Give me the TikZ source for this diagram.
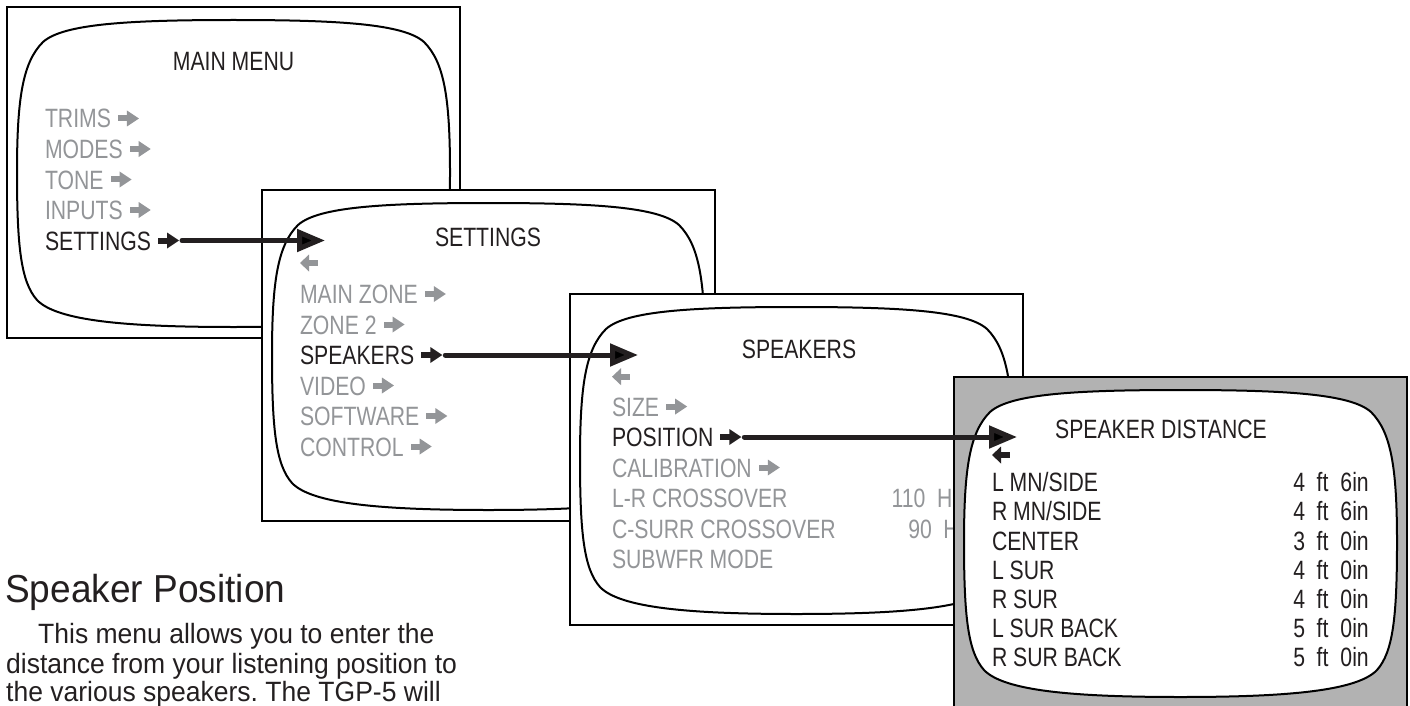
\documentclass[tikz,border=0pt]{standalone}
\usepackage{fontspec}
\usetikzlibrary{arrows.meta}
\frenchspacing
\newfontfamily\menufont{Liberation Sans}[FakeStretch=0.8]
\newfontfamily\bodyfont{Liberation Sans}[FakeStretch=0.95]
\definecolor{menugray}{RGB}{147,149,152}
\definecolor{menudark}{RGB}{35,31,32}
\definecolor{panelgray}{RGB}{178,178,178}
\newcommand\rarrowglyph[1]{\tikz[baseline=-9.5pt]{\fill[#1] (0pt,-3pt) rectangle (10pt,3pt); \fill[#1] (9pt,-8pt) -- (21pt,0pt) -- (9pt,8pt) -- cycle;}}
\newcommand\larrowglyph[1]{\tikz[baseline=-9.5pt]{\fill[#1] (8pt,-3pt) rectangle (18pt,3pt); \fill[#1] (9pt,-8.5pt) -- (0pt,0pt) -- (9pt,8.5pt) -- cycle;}}
\tikzset{
  scrbox/.style={draw=black, line width=2pt, fill=white, minimum width=453pt, minimum height=331pt, inner sep=0pt, outer sep=0pt, anchor=north west},
  tvscreen/.pic={
    \draw[line width=2pt, draw=black, fill=white]
      (10,165) .. controls (10,90) and (16,55) .. (36,35)
      .. controls (56,17) and (120,13) .. (226.5,13)
      .. controls (333,13) and (397,17) .. (417,35)
      .. controls (437,55) and (443,90) .. (443,165)
      .. controls (443,240) and (439,275) .. (423,293)
      .. controls (403,314) and (333,320) .. (226.5,320)
      .. controls (120,320) and (50,314) .. (30,293)
      .. controls (14,275) and (10,240) .. (10,165) -- cycle;
  },
  item/.style={anchor=base west, inner sep=0pt, outer sep=0pt, font={\menufont\fontsize{26.5pt}{30pt}\selectfont}, text=menugray},
  itemon/.style={item, text=menudark},
  menutitle/.style={anchor=base, inner sep=0pt, font={\menufont\fontsize{26.5pt}{30pt}\selectfont}, text=menudark},
  conn/.style={line width=5pt, line cap=round, draw=menudark, -{Triangle[length=28pt,width=22pt]}},
  heading/.style={anchor=base west, inner sep=0pt, font={\bodyfont\fontsize{39pt}{44pt}\selectfont}, text=menudark},
  bodytext/.style={anchor=base west, inner sep=0pt, font={\bodyfont\fontsize{27.9pt}{30pt}\selectfont}, text=menudark}
}
\begin{document}
\begin{tikzpicture}[x=1pt,y=-1pt]
\useasboundingbox (0,0) rectangle (1410,706);
% ---------- Box 1: MAIN MENU
\node[scrbox] (box1) at (7,7) {};
\pic at (box1.north west) {tvscreen};
\node[menutitle] (t1) at (233.5,71) {MAIN MENU};
\node[item] (trims) at (45,128) {TRIMS\hspace{7pt}\rarrowglyph{menugray}};
\node[item] (modes) at (45,158.5) {MODES\hspace{7pt}\rarrowglyph{menugray}};
\node[item] (tone) at (45,189) {TONE\hspace{7pt}\rarrowglyph{menugray}};
\node[item] (inputs) at (45,219.5) {INPUTS\hspace{7pt}\rarrowglyph{menugray}};
\node[itemon] (set1) at (45,250) {SETTINGS\hspace{7pt}\rarrowglyph{menudark}};
% ---------- Box 2: SETTINGS
\node[scrbox] (box2) at (262,190) {};
\pic at (box2.north west) {tvscreen};
\node[menutitle] (t2) at (488,246.7) {SETTINGS};
\node[item] (back2) at (300,272.5) {\larrowglyph{menugray}};
\node[item] (mainzone) at (300,303.5) {MAIN ZONE\hspace{7pt}\rarrowglyph{menugray}};
\node[item] (zone2) at (300,334) {ZONE 2\hspace{7pt}\rarrowglyph{menugray}};
\node[itemon] (spk2) at (300,364.5) {SPEAKERS\hspace{7pt}\rarrowglyph{menudark}};
\node[item] (video) at (300,395) {VIDEO\hspace{7pt}\rarrowglyph{menugray}};
\node[item] (software) at (300,425.5) {SOFTWARE\hspace{7pt}\rarrowglyph{menugray}};
\node[item] (control) at (300,456) {CONTROL\hspace{7pt}\rarrowglyph{menugray}};
% ---------- Box 3: SPEAKERS
\node[scrbox] (box3) at (570,294) {};
\pic at (box3.north west) {tvscreen};
\node[menutitle] (t3) at (799,358.3) {SPEAKERS};
\node[item] (back3) at (612,386.2) {\larrowglyph{menugray}};
\node[item] (size) at (612,416) {SIZE\hspace{7pt}\rarrowglyph{menugray}};
\node[itemon] (pos3) at (612,446.5) {POSITION\hspace{7pt}\rarrowglyph{menudark}};
\node[item] (calib) at (612,477) {CALIBRATION\hspace{7pt}\rarrowglyph{menugray}};
\node[item] (lrx) at (612,507.5) {L-R CROSSOVER};
\node[item] (csx) at (612,538) {C-SURR CROSSOVER};
\node[item] (subm) at (612,568.5) {SUBWFR MODE};
\node[item] (lrxv) at (891.7,507.5) {110\hspace{11.6pt}H};
\node[item] (csxv) at (908.3,538) {90\hspace{11.6pt}H};
% ---------- Box 4: SPEAKER DISTANCE
\node[scrbox, fill=panelgray] (box4) at (954,377) {};
\pic at (box4.north west) {tvscreen};
\node[menutitle] (t4) at (1161,438.3) {SPEAKER DISTANCE};
\node[itemon] (back4) at (992,464.5) {\larrowglyph{menudark}};
\node[itemon] (r1) at (992,491.7) {L MN/SIDE};
\node[itemon] (r2) at (992,520.9) {R MN/SIDE};
\node[itemon] (r3) at (992,550.1) {CENTER};
\node[itemon] (r4) at (992,579.3) {L SUR};
\node[itemon] (r5) at (992,608.5) {R SUR};
\node[itemon] (r6) at (992,637.7) {L SUR BACK};
\node[itemon] (r7) at (992,666.9) {R SUR BACK};
\node[itemon] (v1) at (1293.3,491.7) {4\hspace{11.6pt}ft\hspace{12pt}6in};
\node[itemon] (v2) at (1293.3,520.9) {4\hspace{11.6pt}ft\hspace{12pt}6in};
\node[itemon] (v3) at (1293.3,550.1) {3\hspace{11.6pt}ft\hspace{12pt}0in};
\node[itemon] (v4) at (1293.3,579.3) {4\hspace{11.6pt}ft\hspace{12pt}0in};
\node[itemon] (v5) at (1293.3,608.5) {4\hspace{11.6pt}ft\hspace{12pt}0in};
\node[itemon] (v6) at (1293.3,637.7) {5\hspace{11.6pt}ft\hspace{12pt}0in};
\node[itemon] (v7) at (1293.3,666.9) {5\hspace{11.6pt}ft\hspace{12pt}0in};
% ---------- Connectors
\coordinate (tip1) at (325,0);
\coordinate (tip2) at (638,0);
\coordinate (tip3) at (1017,0);
\coordinate (s1) at ([xshift=3pt,yshift=9.5pt]set1.base east);
\coordinate (s2) at ([xshift=3pt,yshift=9.5pt]spk2.base east);
\coordinate (s3) at ([xshift=3pt,yshift=9.5pt]pos3.base east);
\draw[conn] (s1) -- (s1 -| tip1);
\draw[conn] (s2) -- (s2 -| tip2);
\draw[conn] (s3) -- (s3 -| tip3);
% ---------- Text
\node[heading] (head) at (5,602) {Speaker Position};
\node[bodytext] (body1) at (38,643) {This menu allows you to enter the};
\node[bodytext] (body2) at (6,673) {distance from your listening position to};
\node[bodytext] (body3) at (6,701) {the various speakers. The TGP-5 will};
\end{tikzpicture}
\end{document}
